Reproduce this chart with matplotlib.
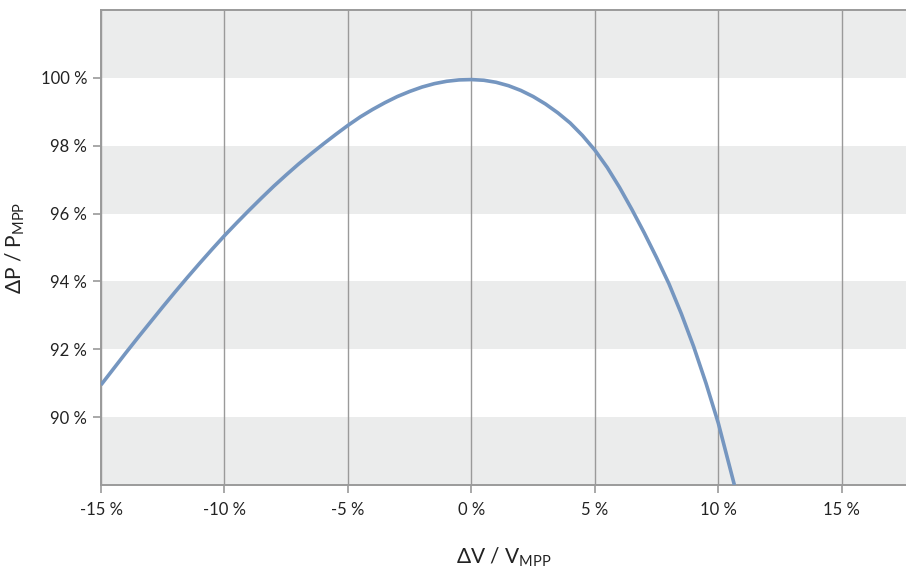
import matplotlib.pyplot as plt

plt.rcParams['font.family'] = ['Lato', 'DejaVu Sans']
plt.rcParams['mathtext.fontset'] = 'custom'
plt.rcParams['mathtext.rm'] = 'Lato'
plt.rcParams['mathtext.it'] = 'Lato'

# courbe (en %)
dv = [-15, -14.5, -14, -13.5, -13, -12.5, -12, -11.5, -11, -10.5, -10,
      -9.5, -9, -8.5, -8, -7.5, -7, -6.5, -6, -5.5, -5, -4.5, -4, -3.5,
      -3, -2.5, -2, -1.5, -1, -0.5, 0, 0.5, 1, 1.5, 2, 2.5, 3, 3.5, 4,
      4.5, 5, 5.5, 6, 6.5, 7, 7.5, 8, 8.5, 9, 9.5, 10, 10.65]
dp = [90.95, 91.42, 91.89, 92.35, 92.80, 93.25, 93.69, 94.12, 94.54, 94.95,
      95.35, 95.73, 96.10, 96.46, 96.81, 97.14, 97.46, 97.76, 98.05, 98.33,
      98.60, 98.85, 99.07, 99.27, 99.45, 99.60, 99.73, 99.83, 99.90, 99.94,
      99.95, 99.93, 99.87, 99.77, 99.63, 99.45, 99.23, 98.97, 98.67, 98.30,
      97.87, 97.36, 96.77, 96.12, 95.43, 94.70, 93.93, 93.05, 92.08, 91.00,
      89.82, 88.0]

x_ticks = [-15, -10, -5, 0, 5, 10, 15]
y_ticks = [90, 92, 94, 96, 98, 100]
bandes = [(88, 90), (92, 94), (96, 98), (100, 102)]

gris = '#9a9a9a'
fig = plt.figure(figsize=(9.06, 5.73), dpi=100)
ax = fig.add_axes([0.1115, 0.1536, 0.8885, 0.8289])

for b0, b1 in bandes:
    ax.axhspan(b0, b1, color='#ebecec', lw=0, zorder=0)

for xv in x_ticks:
    ax.axvline(xv, color=gris, lw=1.0, zorder=1)

ax.plot(dv, dp, color='#7596c0', lw=2.6, zorder=3, solid_capstyle='butt',
        solid_joinstyle='round')

ax.set_xlim(-15, 17.6)
ax.set_ylim(88, 102)
ax.set_xticks(x_ticks)
ax.set_xticklabels([f'{v} %' for v in x_ticks])
ax.set_yticks(y_ticks)
ax.set_yticklabels([f'{v} %' for v in y_ticks])

for s in ['left', 'bottom', 'top']:
    ax.spines[s].set_color(gris)
    ax.spines[s].set_linewidth(1.4)
ax.spines['right'].set_visible(False)
ax.tick_params(colors=gris, labelcolor='#222222', labelsize=12, length=6,
               width=1.2, direction='out', pad=4)
ax.tick_params(axis='x', pad=6)

ax.set_xlabel(r'$\Delta$V / V$_{\mathrm{MPP}}$', fontsize=15, color='#222222', labelpad=20)
ax.set_ylabel(r'$\Delta$P / P$_{\mathrm{MPP}}$', fontsize=15, color='#222222', labelpad=10)

fig.savefig('out.png', dpi=100)
